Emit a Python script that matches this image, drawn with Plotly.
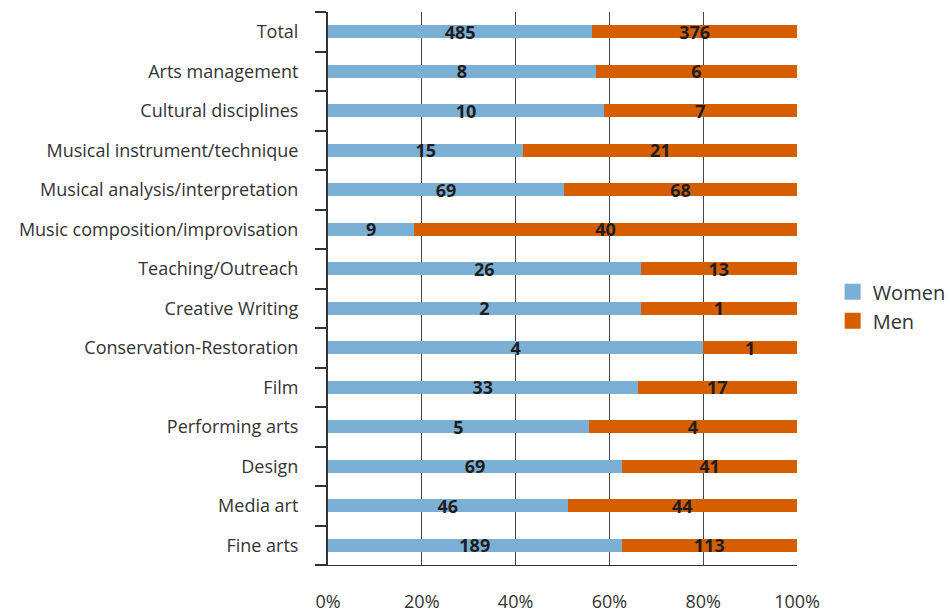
import plotly.graph_objects as go

categories = ["Fine arts", "Media art", "Design", "Performing arts", "Film",
              "Conservation-Restoration", "Creative Writing", "Teaching/Outreach",
              "Music composition/improvisation", "Musical analysis/interpretation",
              "Musical instrument/technique", "Cultural disciplines",
              "Arts management", "Total"]
women = [189, 46, 69, 5, 33, 4, 2, 26, 9, 69, 15, 10, 8, 485]
men = [113, 44, 41, 4, 17, 1, 1, 13, 40, 68, 21, 7, 6, 376]

women_share = [w / (w + m) for w, m in zip(women, men)]
men_share = [m / (w + m) for w, m in zip(women, men)]

BLUE = "#7bafd4"
ORANGE = "#d55e00"
TXT = "#333333"
FONT = "Open Sans"

fig = go.Figure()
for name, share, counts, color in [("Women", women_share, women, BLUE),
                                   ("Men", men_share, men, ORANGE)]:
    fig.add_trace(go.Bar(
        y=categories, x=share, orientation="h", name=name,
        marker=dict(color=color, line=dict(width=0)),
        text=[str(c) for c in counts], textposition="inside",
        insidetextanchor="middle", textangle=0, constraintext="none",
        textfont=dict(family=FONT, size=18, color="#1e1e1e", weight="bold"),
        showlegend=False, hoverinfo="skip",
    ))
    fig.add_trace(go.Scatter(
        x=[None], y=[None], mode="markers", name=name,
        marker=dict(symbol="square", size=16, color=color),
        showlegend=True,
    ))

fig.update_layout(
    width=950, height=612, autosize=False,
    barmode="stack", bargap=0.67,
    plot_bgcolor="white", paper_bgcolor="white",
    margin=dict(l=328, r=153, t=12, b=47, autoexpand=False),
    font=dict(family=FONT, size=18, color=TXT),
    legend=dict(x=1.076, y=0.468, xanchor="left", yanchor="middle",
                traceorder="normal",
                font=dict(size=20, color=TXT), itemsizing="trace",
                tracegroupgap=6, bgcolor="rgba(0,0,0,0)"),
    xaxis=dict(range=[0, 1], tickformat=".0%", dtick=0.2, tick0=0,
               showgrid=True, gridcolor="#444444", gridwidth=1,
               showline=True, linecolor="#333333", linewidth=1,
               ticks="", ticklabelstandoff=20, zeroline=False,
               automargin=False,
               tickfont=dict(size=18, color=TXT), fixedrange=True),
    yaxis=dict(categoryorder="array", categoryarray=categories,
               showline=True, linecolor="#333333", linewidth=2,
               ticks="outside", tickson="boundaries", ticklen=11,
               tickcolor="#333333", tickwidth=2, ticklabelstandoff=24,
               showgrid=False, automargin=False,
               tickfont=dict(size=18, color=TXT),
               fixedrange=True),
)

fig.write_html(
    "out.html",
    config={"displayModeBar": False, "responsive": False},
    post_script=(
        "document.body.style.margin='0';"
        "document.body.style.overflow='hidden';"
    ),
)
